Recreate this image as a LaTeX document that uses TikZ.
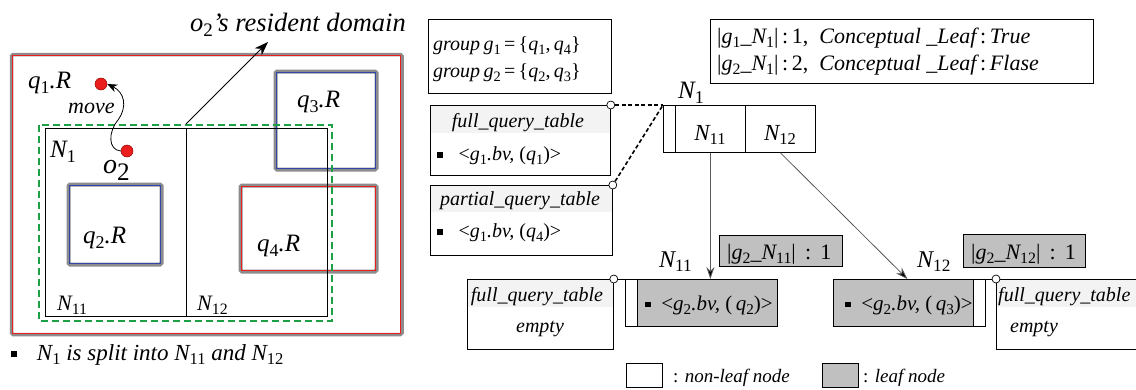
\documentclass[tikz,border=0pt]{standalone}
\usepackage{fontspec}
\usepackage{graphicx}
\setmainfont{Liberation Serif}
\usetikzlibrary{arrows.meta}
\definecolor{leafgray}{RGB}{192,192,192}
\definecolor{hdrgray}{RGB}{243,243,243}
\definecolor{qgray}{RGB}{140,140,140}
\definecolor{dgreen}{RGB}{30,160,70}
\definecolor{qblue}{RGB}{50,70,170}
\definecolor{qred}{RGB}{235,30,30}
\definecolor{lgray}{RGB}{90,90,90}
\newcommand{\sbs}[1]{\raisebox{-0.2em}{\upshape\scalebox{0.72}{#1}}}
\newcommand{\bul}{\rule[0.12em]{0.27em}{0.27em}}
\newcommand{\qbox}[5]{%
  \draw[qgray, line width=4pt, rounded corners=1.5pt] (#1,#2) rectangle (#3,#4);
  \draw[#5, line width=0.9pt] (#1+1.3,#2+1.3) rectangle (#3-1.3,#4-1.3);}
\begin{document}
\begin{tikzpicture}[x=1pt,y=-1pt,
  fs/.style={inner sep=0pt, font=\fontsize{#1}{#1}\selectfont\itshape},
  bx/.style={draw, line width=0.8pt, inner sep=0pt, anchor=north west},
  circ/.style={circle, draw, fill=white, line width=0.7pt, minimum size=8pt, inner sep=0pt},
  dot/.style={circle, fill=qred, draw=red!60!black, line width=0.5pt, minimum size=12pt, inner sep=0pt},
  dsh/.style={line width=1.6pt, dash pattern=on 4pt off 2.5pt},
  tarrow/.style={draw=lgray, line width=0.8pt, -{Stealth[length=12pt,width=8pt,fill=black]}},
]
\useasboundingbox (0,0) rectangle (1136,389);

% ---------------- left scene ----------------
\draw[qgray, line width=3.5pt, rounded corners=1.5pt] (11.5,54.5) rectangle (402,334.5);
\draw[qred, line width=0.9pt] (12.8,55.8) rectangle (400.7,333.2);

\qbox{275.5}{71.5}{376.5}{169.5}{qblue}
\qbox{68.5}{184.5}{161.5}{264.5}{qblue}
\qbox{240.5}{185.5}{376.5}{271.5}{qred}

\draw[line width=0.8pt] (45,128) rectangle (327,316);
\draw[line width=0.8pt] (186,128) -- (186,316);
\draw[dgreen, line width=2.6pt, dash pattern=on 7pt off 4pt] (39,125) rectangle (332,321);

\node[fs=26.5, anchor=base west] (dom) at (190,31) {o\sbs{2}'s resident domain};
\coordinate (domfoot) at (186,124);
\draw[line width=0.8pt, -{Stealth[length=14pt,width=10pt]}] (domfoot) -- (268,42);

\node[fs=25, anchor=base west] (q1r) at (28,88) {q\sbs{1}.R};
\node[dot] (q1d) at (101,84) {};
\node[dot] (o2d) at (127,151) {};
\node[fs=22, anchor=base west] (mv) at (68,113) {move};
\draw[line width=0.8pt, -{Stealth[length=10pt,width=8pt]}]
  (o2d.west) .. controls (108,150) and (108,132) .. (118,120)
  .. controls (128,106) and (124,92) .. (q1d.east);
\node[fs=25, anchor=base west] (n1l) at (50,157) {N\sbs{1}};
\node[fs=28, anchor=base west] (o2l) at (103,173) {o\raisebox{-0.25em}{\upshape\scalebox{0.9}{2}}};
\node[fs=25, anchor=base west] (q3r) at (297,107) {q\sbs{3}.R};
\node[fs=25, anchor=base west] (q2r) at (83,243) {q\sbs{2}.R};
\node[fs=25, anchor=base west] (q4r) at (257,251) {q\sbs{4}.R};
\node[fs=22, anchor=base west] (n11l) at (57,310) {N\sbs{11}};
\node[fs=22, anchor=base west] (n12l) at (197,310) {N\sbs{12}};
\node[fs=23, anchor=base west] (split) at (11,360) {\bul\hspace{0.85em}N\sbs{1} is split into N\sbs{11} and N\sbs{12}};

% ---------------- right: tables and tree ----------------
\node[bx, minimum width=183pt, minimum height=74pt] (grp) at (428,19) {};
\node[fs=20, anchor=base west] (g1) at (433,50) {group\,g\sbs{1}\,{\upshape=\,\{}q\sbs{1}{\upshape,}\,q\sbs{4}{\upshape\}}};
\node[fs=20, anchor=base west] (g2) at (433,77) {group\,g\sbs{2}\,{\upshape=\,\{}q\sbs{2}{\upshape,}\,q\sbs{3}{\upshape\}}};

\node[bx, minimum width=383pt, minimum height=64pt] (stats) at (710,19) {};
\node[fs=22, anchor=base west] (s1) at (717,43) {{\upshape|}g\sbs{1}\_N\sbs{1}{\upshape|\,:\,1,}\ \ Conceptual \_Leaf\,{\upshape:}\,True};
\node[fs=22, anchor=base west] (s2) at (717,70) {{\upshape|}g\sbs{2}\_N\sbs{1}{\upshape|\,:\,2,}\ \ Conceptual \_Leaf\,{\upshape:}\,Flase};

% full query table of N1
\fill[hdrgray] (430,105) rectangle (610,133);
\node[bx, minimum width=180pt, minimum height=70pt] (fqt1) at (430,105) {};
\node[fs=20, anchor=base] (fqt1h) at (518,127) {full\_query\_table};
\node[fs=20, anchor=base west] (fqt1r) at (437,160) {\bul\hspace{0.8em}{\upshape<}g\sbs{1}.bv, {\upshape(}q\sbs{1}{\upshape)>}};

% partial query table of N1
\fill[hdrgray] (430,185) rectangle (612,212);
\node[bx, minimum width=182pt, minimum height=70pt] (pqt) at (430,185) {};
\node[fs=20, anchor=base] (pqth) at (520,205) {partial\_query\_table};
\node[fs=20, anchor=base west] (pqtr) at (437,237) {\bul\hspace{0.8em}{\upshape<}g\sbs{1}.bv, {\upshape(}q\sbs{4}{\upshape)>}};

\node[circ] (c1) at (fqt1.north east) {};
\node[circ] (c2) at (pqt.north east) {};

% N1 node
\node[bx, minimum width=12pt, minimum height=47pt] (n1a) at (663,105) {};
\node[bx, minimum width=70pt, minimum height=47pt] (n1b) at (675,105) {};
\node[bx, minimum width=70pt, minimum height=47pt] (n1c) at (745,105) {};
\node[fs=23, anchor=base] (n1bt) at (710,140) {N\sbs{11}};
\node[fs=23, anchor=base] (n1ct) at (780,140) {N\sbs{12}};
\node[fs=25, anchor=base west] (n1lab) at (678,98) {N\sbs{1}};

\draw[dsh] (c1) -- (n1a.north west);
\draw[dsh] (c2) -- (n1a.north west);

% leaf N11
\node[bx, minimum width=12pt, minimum height=47pt] (lw) at (625,279) {};
\node[bx, fill=leafgray, minimum width=140pt, minimum height=47pt] (lg) at (637,279) {};
\node[fs=21, anchor=base west] (lgt) at (645,310) {\bul\hspace{0.5em}{\upshape<}g\sbs{2}.bv, {\upshape(}\,q\sbs{2}{\upshape)>}};
\node[fs=24, anchor=base west] (n11lab) at (659,267) {N\sbs{11}};
\node[bx, fill=leafgray, minimum width=123pt, minimum height=31pt] (gl1) at (719,235) {};
\node[fs=22, anchor=base west] (gl1t) at (727,259) {{\upshape|}g\sbs{2}\_N\sbs{11}{\upshape|\ \,:\ \,1}};

% full query table of N11
\fill[hdrgray] (467,279) rectangle (613,307);
\node[bx, minimum width=146pt, minimum height=70pt] (fqtl) at (467,279) {};
\node[fs=20, anchor=base] (fqtlh) at (537,301) {full\_query\_table};
\node[fs=20, anchor=base] (fqtle) at (540,332) {empty};
\node[circ] (c3) at (fqtl.north east) {};
\draw[line width=0.8pt] (c3) -- (lw.north west);

% leaf N12
\node[bx, fill=leafgray, minimum width=140pt, minimum height=47pt] (rg) at (833,279) {};
\node[bx, minimum width=12pt, minimum height=47pt] (rw) at (973,279) {};
\node[fs=21, anchor=base west] (rgt) at (845,310) {\bul\hspace{0.5em}{\upshape<}g\sbs{2}.bv, {\upshape(}\,q\sbs{3}{\upshape)>}};
\node[fs=24, anchor=base west] (n12lab) at (917,267) {N\sbs{12}};
\node[bx, fill=leafgray, minimum width=122pt, minimum height=33pt] (gl2) at (963,234) {};
\node[fs=22, anchor=base west] (gl2t) at (971,259) {{\upshape|}g\sbs{2}\_N\sbs{12}{\upshape|\ \,:\ \,1}};

% full query table of N12 (runs off the right edge)
\fill[hdrgray] (996,279) rectangle (1136,307);
\draw[line width=0.8pt] (1136,279) -- (996,279) -- (996,349) -- (1136,349);
\coordinate (fqtr) at (996,279);
\node[fs=20, anchor=base west] (fqtrh) at (998,301) {full\_query\_table};
\node[fs=20, anchor=base] (fqtre) at (1034,332) {empty};
\node[circ] (c4) at (fqtr) {};
\draw[line width=0.8pt] (rw.north east) -- (c4);

% tree connectors
\draw[tarrow] (n1b.south) -- (n1b.south |- lg.north);
\draw[tarrow] (n1c.south) -- ([xshift=4pt]rg.north);

% legend
\node[bx, minimum width=36pt, minimum height=24pt] (lg1) at (626,363) {};
\node[fs=19, anchor=base west] (lg1t) at (673,382) {{\upshape:} non-leaf node};
\node[bx, fill=leafgray, minimum width=36pt, minimum height=24pt] (lg2) at (822,363) {};
\node[fs=19, anchor=base west] (lg2t) at (863,382) {{\upshape:} leaf node};
\end{tikzpicture}
\end{document}
